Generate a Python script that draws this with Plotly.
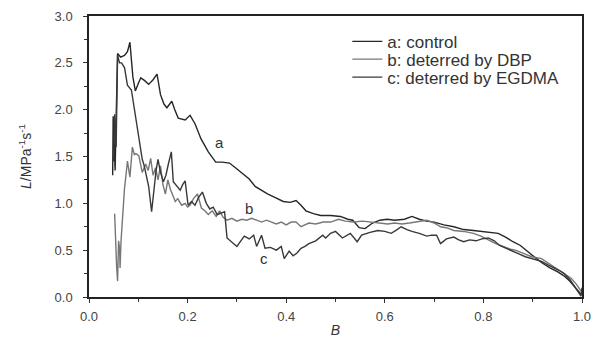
import plotly.graph_objects as go

# ---- data ----
a_B = [0.048, 0.049, 0.051, 0.053, 0.055, 0.058, 0.064, 0.072, 0.078, 0.083,
       0.089, 0.094, 0.100, 0.105, 0.113, 0.121, 0.130, 0.138, 0.145, 0.152,
       0.158, 0.163, 0.168, 0.174, 0.181, 0.195, 0.205, 0.215, 0.227, 0.242,
       0.257, 0.270, 0.285, 0.297, 0.307, 0.317, 0.325, 0.337, 0.350, 0.362,
       0.378, 0.394, 0.408, 0.420, 0.430, 0.440, 0.455, 0.470, 0.490, 0.510,
       0.525, 0.535, 0.548, 0.560, 0.575, 0.590, 0.605, 0.620, 0.640, 0.655,
       0.670, 0.685, 0.700, 0.720, 0.740, 0.760, 0.780, 0.800, 0.815, 0.830,
       0.845, 0.860, 0.875, 0.890, 0.905, 0.920, 0.935, 0.950, 0.965, 0.975,
       0.985, 0.992, 0.998]
a_L = [1.30, 1.93, 1.65, 1.35, 1.90, 2.60, 2.56, 2.58, 2.62, 2.72,
       2.35, 2.20, 2.28, 2.34, 2.31, 2.27, 2.32, 2.38, 2.16, 2.06,
       2.02, 2.06, 2.09, 2.00, 1.91, 1.89, 1.94, 1.85, 1.69, 1.55,
       1.44, 1.44, 1.43, 1.38, 1.34, 1.30, 1.26, 1.18, 1.14, 1.10,
       1.06, 1.02, 1.01, 1.03, 0.98, 0.92, 0.89, 0.87, 0.87, 0.86,
       0.83, 0.82, 0.74, 0.73, 0.79, 0.82, 0.83, 0.82, 0.83, 0.86,
       0.83, 0.81, 0.80, 0.77, 0.75, 0.72, 0.71, 0.70, 0.69, 0.68,
       0.64, 0.59, 0.55, 0.48, 0.42, 0.36, 0.31, 0.27, 0.22, 0.17,
       0.11, 0.06, 0.03]

b_B = [0.052, 0.054, 0.056, 0.058, 0.060, 0.062, 0.063, 0.065, 0.068, 0.072,
       0.075, 0.078, 0.083, 0.088, 0.092, 0.095, 0.101, 0.108, 0.115, 0.120,
       0.125, 0.130, 0.135, 0.140, 0.145, 0.150, 0.155, 0.160, 0.165, 0.170,
       0.175, 0.180, 0.188, 0.195, 0.200, 0.205, 0.212, 0.220, 0.228, 0.235,
       0.242, 0.250, 0.258, 0.265, 0.272, 0.280, 0.290, 0.300, 0.310, 0.320,
       0.330, 0.340, 0.350, 0.360, 0.370, 0.380, 0.390, 0.400, 0.410, 0.420,
       0.430, 0.446, 0.460, 0.475, 0.490, 0.506, 0.520, 0.536, 0.555, 0.573,
       0.590, 0.606, 0.620, 0.635, 0.650, 0.673, 0.685, 0.700, 0.713, 0.725,
       0.740, 0.760, 0.780, 0.795, 0.810, 0.825, 0.840, 0.855, 0.865, 0.880,
       0.898, 0.918, 0.935, 0.952, 0.965, 0.978, 0.988, 0.994, 1.000]
b_L = [0.89, 0.45, 0.33, 0.17, 0.60, 0.52, 0.31, 0.60, 0.86, 1.16,
       1.30, 1.45, 1.28, 1.60, 1.52, 1.53, 1.51, 1.33, 1.42, 1.35,
       1.48, 1.30, 1.38, 1.25, 1.40, 1.20, 1.10, 1.25, 1.15, 1.08,
       1.02, 1.05, 0.98, 1.00, 0.96, 0.98, 1.05, 1.10, 0.95, 0.92,
       0.88, 0.92, 0.86, 0.92, 0.85, 0.82, 0.84, 0.81, 0.83, 0.82,
       0.84, 0.82, 0.80, 0.82, 0.80, 0.78, 0.80, 0.77, 0.80, 0.80,
       0.75, 0.79, 0.78, 0.80, 0.80, 0.83, 0.81, 0.80, 0.81, 0.80,
       0.79, 0.78, 0.79, 0.78, 0.79, 0.81, 0.82, 0.79, 0.75, 0.74,
       0.71, 0.70, 0.68, 0.65, 0.61, 0.57, 0.54, 0.51, 0.50, 0.47,
       0.43, 0.41, 0.35, 0.29, 0.25, 0.20, 0.14, 0.10, 0.05]

c_B = [0.050, 0.052, 0.055, 0.058, 0.062, 0.066, 0.072, 0.078, 0.086, 0.092,
       0.098, 0.104, 0.108, 0.112, 0.116, 0.121, 0.127, 0.132, 0.136, 0.140,
       0.145, 0.151, 0.156, 0.161, 0.167, 0.171, 0.178, 0.185, 0.190, 0.195,
       0.201, 0.208, 0.215, 0.222, 0.230, 0.238, 0.245, 0.252, 0.260, 0.268,
       0.275, 0.280, 0.290, 0.300, 0.308, 0.315, 0.325, 0.334, 0.340, 0.350,
       0.357, 0.368, 0.380, 0.390, 0.396, 0.406, 0.414, 0.422, 0.430, 0.438,
       0.446, 0.460, 0.474, 0.480, 0.490, 0.500, 0.514, 0.530, 0.544, 0.553,
       0.570, 0.586, 0.600, 0.613, 0.625, 0.633, 0.645, 0.655, 0.670, 0.685,
       0.695, 0.705, 0.713, 0.725, 0.740, 0.750, 0.760, 0.772, 0.785, 0.797,
       0.810, 0.822, 0.833, 0.845, 0.858, 0.872, 0.885, 0.900, 0.918, 0.932,
       0.944, 0.955, 0.964, 0.975, 0.984, 0.992, 0.998, 1.000]
c_L = [1.45, 1.95, 1.60, 2.58, 2.50, 2.50, 2.45, 2.26, 2.21, 2.00,
       1.80, 1.60, 1.47, 1.40, 1.30, 1.18, 0.91, 1.19, 1.35, 1.47,
       1.33, 1.23, 1.30, 1.42, 1.55, 1.23, 1.18, 1.14, 1.20, 1.24,
       0.98, 1.02, 0.98, 1.06, 1.12, 1.00, 0.94, 0.96, 0.88, 0.90,
       0.91, 0.63, 0.58, 0.54, 0.60, 0.65, 0.62, 0.66, 0.54, 0.66,
       0.52, 0.53, 0.50, 0.54, 0.41, 0.49, 0.44, 0.47, 0.52, 0.54,
       0.57, 0.60, 0.66, 0.63, 0.68, 0.70, 0.63, 0.68, 0.59, 0.66,
       0.69, 0.71, 0.70, 0.68, 0.72, 0.75, 0.72, 0.70, 0.68, 0.65,
       0.66, 0.66, 0.57, 0.62, 0.64, 0.61, 0.59, 0.61, 0.60, 0.62,
       0.63, 0.60, 0.55, 0.52, 0.49, 0.46, 0.43, 0.41, 0.38, 0.34,
       0.31, 0.28, 0.25, 0.19, 0.12, 0.06, 0.01, 0.10]

series_names = ["a: control", "b: deterred by DBP", "c: deterred by EGDMA"]
curve_labels = ["a", "b", "c"]
label_B = [0.265, 0.325, 0.355]
label_L = [1.65, 0.94, 0.41]

x_ticks = [0.0, 0.2, 0.4, 0.6, 0.8, 1.0]
y_ticks = [0.0, 0.5, 1.0, 1.5, 2.0, 2.5, 3.0]

colors = ["#262626", "#777777", "#383838"]
FONT = "Liberation Sans, Arial, sans-serif"

legend_ids = ["legend", "legend2", "legend3"]
legend_rows_y = [0.908, 0.845, 0.781]

fig = go.Figure()
for name, xs, ys, col, lid in zip(series_names, [a_B, b_B, c_B], [a_L, b_L, c_L],
                                  colors, legend_ids):
    fig.add_trace(go.Scatter(x=xs, y=ys, mode="lines", name=name, legend=lid,
                             line=dict(color=col, width=1.4)))

for t, xb, yl in zip(curve_labels, label_B, label_L):
    fig.add_annotation(x=xb, y=yl, text=t, showarrow=False,
                       font=dict(family=FONT, size=15, color="#333333"))

axis_common = dict(showgrid=False, zeroline=False, showline=True, linecolor="#222222",
                   linewidth=1.5, mirror=True, ticks="outside", ticklen=4, tickwidth=1.2,
                   tickcolor="#333333", ticklabeloverflow="allow",
                   tickfont=dict(family=FONT, size=13, color="#444444"))

fig.update_xaxes(range=[0, 1.0], tickvals=x_ticks, ticktext=[f"{v:.1f}" for v in x_ticks],
                 minor=dict(dtick=0.1, ticks="outside", ticklen=3, tickcolor="#333333"),
                 ticklabelstandoff=3,
                 title=dict(text="<i>B</i>", font=dict(family=FONT, size=14, color="#333333"),
                            standoff=2),
                 **axis_common)
fig.update_yaxes(range=[0, 3.0], tickvals=y_ticks, ticktext=[f"{v:.1f}" for v in y_ticks],
                 minor=dict(dtick=0.25, ticks="outside", ticklen=3, tickcolor="#333333"),
                 ticklabelstandoff=8,
                 title=dict(text="<i>L</i>/MPa<sup>-1</sup>s<sup>-1</sup>",
                            font=dict(family=FONT, size=14, color="#333333"), standoff=20),
                 **axis_common)

legend_style = dict(x=0.524, xanchor="left", yanchor="middle",
                    font=dict(family=FONT, size=17, color="#333333"),
                    bgcolor="rgba(0,0,0,0)", borderwidth=0)

fig.update_layout(
    width=595, height=340,
    margin=dict(l=89, r=4, t=16, b=41),
    plot_bgcolor="white", paper_bgcolor="white",
    showlegend=True,
    legend=dict(y=legend_rows_y[0], **legend_style),
    legend2=dict(y=legend_rows_y[1], **legend_style),
    legend3=dict(y=legend_rows_y[2], **legend_style),
)

fig.write_html("out.html")
